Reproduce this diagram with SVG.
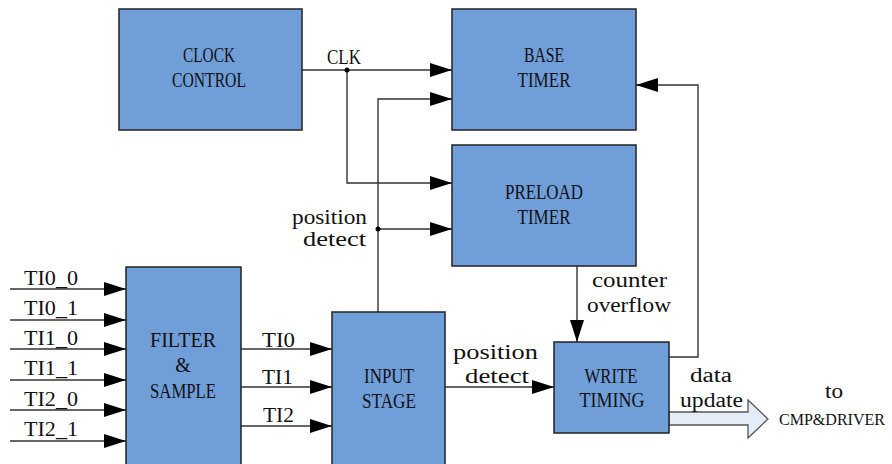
<svg xmlns="http://www.w3.org/2000/svg" width="892" height="464" viewBox="0 0 892 464">
<defs>
<style>
.box{fill:#6f9ed9;stroke:#222;stroke-width:1.5}
.ln{fill:none;stroke:#333;stroke-width:1.4}
.c{text-anchor:middle}
.t{font-family:"Liberation Serif","Times New Roman",serif;font-size:20px;fill:#111}
</style>
<marker id="ah" markerUnits="userSpaceOnUse" viewBox="0 0 22 14" refX="22" refY="7" markerWidth="22" markerHeight="14" orient="auto">
<polygon points="0,0 22,7 0,14" fill="#000"/>
</marker>
</defs>
<rect width="892" height="464" fill="#fff"/>

<g id="connectors">
<line class="ln" x1="302" y1="70" x2="452" y2="70" marker-end="url(#ah)"/>
<polyline class="ln" points="347,70 347,183 452,183" marker-end="url(#ah)"/>
<polyline class="ln" points="378,312 378,99 452,99" marker-end="url(#ah)"/>
<line class="ln" x1="378" y1="229" x2="452" y2="229" marker-end="url(#ah)"/>
<circle cx="347" cy="70" r="2.5" fill="#000"/>
<circle cx="378" cy="229" r="2.5" fill="#000"/>
<line class="ln" x1="10" y1="289" x2="126" y2="289" marker-end="url(#ah)"/>
<line class="ln" x1="10" y1="320" x2="126" y2="320" marker-end="url(#ah)"/>
<line class="ln" x1="10" y1="349" x2="126" y2="349" marker-end="url(#ah)"/>
<line class="ln" x1="10" y1="380" x2="126" y2="380" marker-end="url(#ah)"/>
<line class="ln" x1="10" y1="410" x2="126" y2="410" marker-end="url(#ah)"/>
<line class="ln" x1="10" y1="441" x2="126" y2="441" marker-end="url(#ah)"/>
<line class="ln" x1="241" y1="349" x2="332" y2="349" marker-end="url(#ah)"/>
<line class="ln" x1="241" y1="387" x2="332" y2="387" marker-end="url(#ah)"/>
<line class="ln" x1="241" y1="426" x2="332" y2="426" marker-end="url(#ah)"/>
<line class="ln" x1="445" y1="387" x2="554" y2="387" marker-end="url(#ah)"/>
<line class="ln" x1="577" y1="266" x2="577" y2="342" marker-end="url(#ah)"/>
<polyline class="ln" points="669,357 698,357 698,85 636,85" marker-end="url(#ah)"/>
<polygon points="669,412 748,412 748,400 768,419 748,438 748,425 669,425" fill="#e4ecf7" stroke="#555" stroke-width="1.3"/>
</g>

<g id="clock-control">
<rect class="box" x="119" y="9" width="183" height="121"/>
<text class="t c" x="209" y="62" textLength="52" lengthAdjust="spacingAndGlyphs">CLOCK</text>
<text class="t c" x="209" y="87" textLength="74" lengthAdjust="spacingAndGlyphs">CONTROL</text>
</g>
<g id="base-timer">
<rect class="box" x="452" y="9" width="184" height="121"/>
<text class="t c" x="544" y="62" textLength="40" lengthAdjust="spacingAndGlyphs">BASE</text>
<text class="t c" x="544" y="87" textLength="53" lengthAdjust="spacingAndGlyphs">TIMER</text>
</g>
<g id="preload-timer">
<rect class="box" x="452" y="145" width="184" height="121"/>
<text class="t c" x="544" y="199" textLength="78" lengthAdjust="spacingAndGlyphs">PRELOAD</text>
<text class="t c" x="544" y="224" textLength="53" lengthAdjust="spacingAndGlyphs">TIMER</text>
</g>
<g id="filter-sample">
<rect class="box" x="126" y="267" width="115" height="200"/>
<text class="t c" x="183" y="347" textLength="66" lengthAdjust="spacingAndGlyphs">FILTER</text>
<text class="t c" x="183" y="372">&amp;</text>
<text class="t c" x="183" y="398" textLength="66" lengthAdjust="spacingAndGlyphs">SAMPLE</text>
</g>
<g id="input-stage">
<rect class="box" x="332" y="312" width="113" height="155"/>
<text class="t c" x="389" y="383" textLength="50" lengthAdjust="spacingAndGlyphs">INPUT</text>
<text class="t c" x="389" y="408" textLength="54" lengthAdjust="spacingAndGlyphs">STAGE</text>
</g>
<g id="write-timing">
<rect class="box" x="554" y="342" width="115" height="91"/>
<text class="t c" x="611" y="383" textLength="53" lengthAdjust="spacingAndGlyphs">WRITE</text>
<text class="t c" x="612" y="407" textLength="65" lengthAdjust="spacingAndGlyphs">TIMING</text>
</g>

<g id="labels">
<text class="t" x="327" y="64" textLength="34" lengthAdjust="spacingAndGlyphs">CLK</text>
<text class="t" x="292" y="224" textLength="75" lengthAdjust="spacingAndGlyphs">position</text>
<text class="t" x="303" y="246" textLength="63" lengthAdjust="spacingAndGlyphs">detect</text>
<text class="t" x="24" y="285" textLength="54" lengthAdjust="spacingAndGlyphs">TI0_0</text>
<text class="t" x="24" y="315" textLength="54" lengthAdjust="spacingAndGlyphs">TI0_1</text>
<text class="t" x="24" y="345" textLength="54" lengthAdjust="spacingAndGlyphs">TI1_0</text>
<text class="t" x="24" y="375" textLength="54" lengthAdjust="spacingAndGlyphs">TI1_1</text>
<text class="t" x="24" y="406" textLength="54" lengthAdjust="spacingAndGlyphs">TI2_0</text>
<text class="t" x="24" y="436" textLength="54" lengthAdjust="spacingAndGlyphs">TI2_1</text>
<text class="t" x="262" y="347" textLength="33" lengthAdjust="spacingAndGlyphs">TI0</text>
<text class="t" x="262" y="384" textLength="31" lengthAdjust="spacingAndGlyphs">TI1</text>
<text class="t" x="263" y="422" textLength="31" lengthAdjust="spacingAndGlyphs">TI2</text>
<text class="t" x="453" y="359" textLength="85" lengthAdjust="spacingAndGlyphs">position</text>
<text class="t" x="465" y="383" textLength="64" lengthAdjust="spacingAndGlyphs">detect</text>
<text class="t" x="592" y="287" textLength="75" lengthAdjust="spacingAndGlyphs">counter</text>
<text class="t" x="587" y="312" textLength="84" lengthAdjust="spacingAndGlyphs">overflow</text>
<text class="t" x="690" y="382" textLength="42" lengthAdjust="spacingAndGlyphs">data</text>
<text class="t" x="680" y="407" textLength="63" lengthAdjust="spacingAndGlyphs">update</text>
<text class="t" x="825" y="398" textLength="18" lengthAdjust="spacingAndGlyphs">to</text>
<text class="t" x="779" y="425" style="font-size:17px" textLength="106" lengthAdjust="spacingAndGlyphs">CMP&amp;DRIVER</text>
</g>
</svg>
